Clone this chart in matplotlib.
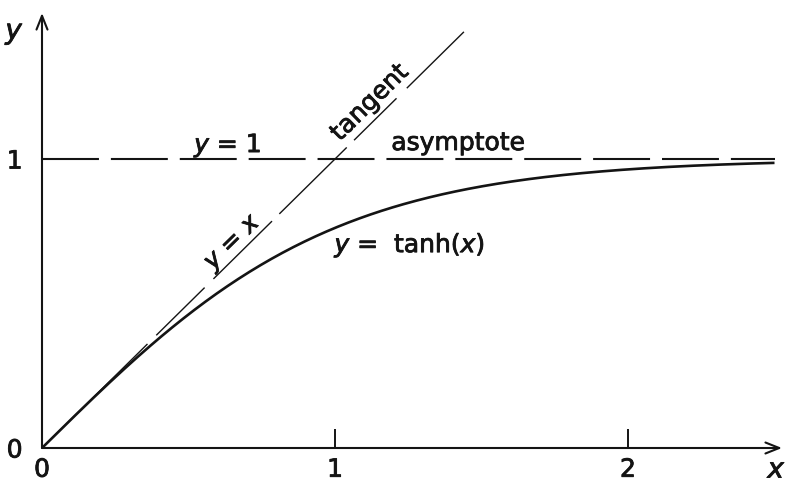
"""tanh(x) with its tangent at the origin and the y = 1 asymptote."""

import numpy as np
import matplotlib

matplotlib.use("Agg")
import matplotlib.pyplot as plt
import matplotlib.patheffects as pe

plt.rcParams["font.family"] = ["DejaVu Sans"]
plt.rcParams["mathtext.fontset"] = "dejavusans"

# plotted range of the curve and the asymptote
x_end = 2.5
# tangent y = x, drawn in pieces so the labels can sit in the breaks
tangent_pieces = [(0.0, 0.36), (0.39, 0.555), (0.585, 0.785),
                  (0.81, 1.04), (1.065, 1.21), (1.245, 1.44)]
asymptote_y = 1.0
xtick_values = [0, 1, 2]
xtick_labels = ["0", "1", "2"]
ytick_values = [0, 1]
ytick_labels = ["0", "1"]

INK = "#141414"
# lettering is a touch heavier than the regular face
heavy = [pe.withStroke(linewidth=0.6, foreground=INK)]

fig = plt.figure(figsize=(7.87, 4.84), dpi=100)
ax = fig.add_axes([0, 0, 1, 1])
ax.set_xlim(-42 / 293, 745 / 293)
ax.set_ylim(-36 / 289, 448 / 289)
ax.set_facecolor("white")

# curve
xs = np.linspace(0, x_end, 400)
ax.plot(xs, np.tanh(xs), color=INK, lw=1.9, solid_capstyle="butt")

# tangent at the origin
for a, b in tangent_pieces:
    seg = np.array([a, b])
    ax.plot(seg, seg, color=INK, lw=1.0, solid_capstyle="butt")

# asymptote
lw_dash = 1.5
ax.plot([0, x_end], [asymptote_y, asymptote_y], color=INK, lw=lw_dash,
        linestyle=(0, (41 / lw_dash, 8.6 / lw_dash)), dash_capstyle="butt")

# axes with open arrowheads
for sp in ax.spines.values():
    sp.set_visible(False)
ax.spines["bottom"].set_position(("data", 0))
ax.spines["left"].set_position(("data", 0))
arrow = dict(arrowstyle="->,head_length=0.55,head_width=0.22", lw=1.5,
             color=INK, shrinkA=0, shrinkB=0, mutation_scale=18)
ax.annotate("", xy=(740 / 293, 0), xytext=(0, 0), arrowprops=arrow)
ax.annotate("", xy=(0, 435 / 289), xytext=(0, 0), arrowprops=arrow)

ax.set_xticks(xtick_values, xtick_labels)
ax.set_yticks(ytick_values, ytick_labels)
ax.tick_params(axis="x", direction="in", length=14, width=1.4, color=INK,
               pad=7, labelsize=18, labelcolor=INK)
ax.tick_params(axis="y", length=0, pad=14, labelsize=18, labelcolor=INK)
for lab in ax.get_xticklabels() + ax.get_yticklabels():
    lab.set_path_effects(heavy)

ax.text(2.509, -0.075, "$x$", fontsize=20, color=INK, ha="center",
        va="center", path_effects=heavy)
ax.text(-0.092, 1.436, "$y$", fontsize=20, color=INK, ha="center",
        va="center", path_effects=heavy)

# annotations
ax.text(0.635, 1.024, "$y$ = 1", fontsize=18, color=INK,
        ha="center", va="baseline", path_effects=heavy)
ax.text(1.42, 1.031, "asymptote", fontsize=18, color=INK,
        ha="center", va="baseline", path_effects=heavy)
ax.text(1.256, 0.702, "$y$ =  tanh($x$)", fontsize=18, color=INK,
        ha="center", va="center", path_effects=heavy)
ax.text(0.655, 0.71, "$y$ = $x$", fontsize=18, color=INK, rotation=44.5,
        rotation_mode="anchor", ha="center", va="center", path_effects=heavy)
ax.text(1.118, 1.195, "tangent", fontsize=18, color=INK, rotation=44.5,
        rotation_mode="anchor", ha="center", va="center", path_effects=heavy)

fig.savefig("out.png", dpi=100)
